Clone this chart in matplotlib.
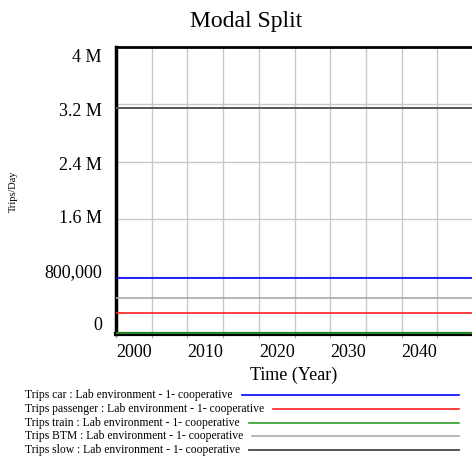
import matplotlib.pyplot as plt
from matplotlib.lines import Line2D

plt.rcParams['font.family'] = ['Liberation Serif', 'DejaVu Serif']

years = [2000, 2050]
trips_car = [785000, 785000]
trips_passenger = [295000, 295000]
trips_train = [12000, 12000]
trips_btm = [505000, 505000]
trips_slow = [3155000, 3155000]

series_names = ['Trips car', 'Trips passenger', 'Trips train', 'Trips BTM', 'Trips slow']
series_values = [trips_car, trips_passenger, trips_train, trips_btm, trips_slow]
colors = ['#0000ff', '#ff2020', '#2ca02c', '#aaaaaa', '#555555']
widths = [1.2, 1.2, 1.2, 1.2, 1.4]
scenario = 'Lab environment - 1- cooperative'

x_ticks = [2000, 2010, 2020, 2030, 2040]
y_ticks = [0, 800000, 1600000, 2400000, 3200000, 4000000]
y_labels = ['0', '800,000', '1.6 M', '2.4 M', '3.2 M', '4 M']

W, H = 472, 459
fig = plt.figure(figsize=(W / 100, H / 100), dpi=100)
ax = fig.add_axes([116 / W, 1 - 334 / H, (473 - 116) / W, (334 - 47) / H])

for vals, c, lw in zip(series_values, colors, widths):
    ax.plot(years, vals, color=c, lw=lw, zorder=3)

ax.set_xlim(2000, 2050)
ax.set_ylim(0, 4000000)
ax.set_xticks(range(2000, 2051, 5))
ax.set_xticklabels([])
ax.set_yticks(y_ticks)
ax.set_yticklabels([])
ax.grid(True, color='#c8c8c8', lw=1, zorder=0)
ax.tick_params(axis='y', length=0)
ax.tick_params(axis='x', length=3, color='#aaaaaa', direction='out')

for t in x_ticks:
    ax.text(t, -0.035, str(t), transform=ax.get_xaxis_transform(),
            ha='left', va='top', fontsize=13)

# vensim squeezes the value labels a bit inside the plot height
for v, lab in zip(y_ticks, y_labels):
    ypix = 326 - v / y_ticks[-1] * 268
    fig.text(102 / W, 1 - ypix / H, lab, ha='right', va='center', fontsize=13)

for side, lw in [('left', 2.5), ('bottom', 3), ('top', 2), ('right', 2)]:
    ax.spines[side].set_linewidth(lw)
    ax.spines[side].set_color('black')

fig.text(246 / W, 1 - 21 / H, 'Modal Split', ha='center', va='center', fontsize=17)
fig.text(294 / W, 1 - 375 / H, 'Time (Year)', ha='center', va='center', fontsize=13)
fig.text(13 / W, 1 - 191 / H, 'Trips/Day', ha='center', va='center',
         rotation=90, fontsize=7.5)

# legend drawn by hand, text then a line out to the right
fig.canvas.draw()
renderer = fig.canvas.get_renderer()
row_y = [395, 409, 423, 436, 450]
for name, c, lw, y in zip(series_names, colors, widths, row_y):
    t = fig.text(25 / W, 1 - y / H, name + ' : ' + scenario,
                 ha='left', va='center', fontsize=8.4)
    bb = t.get_window_extent(renderer)
    x0 = bb.x1 + 9
    fig.add_artist(Line2D([x0 / W, 459 / W], [1 - y / H, 1 - y / H],
                          color=c, lw=lw, transform=fig.transFigure))

fig.savefig('out.png', dpi=100)
